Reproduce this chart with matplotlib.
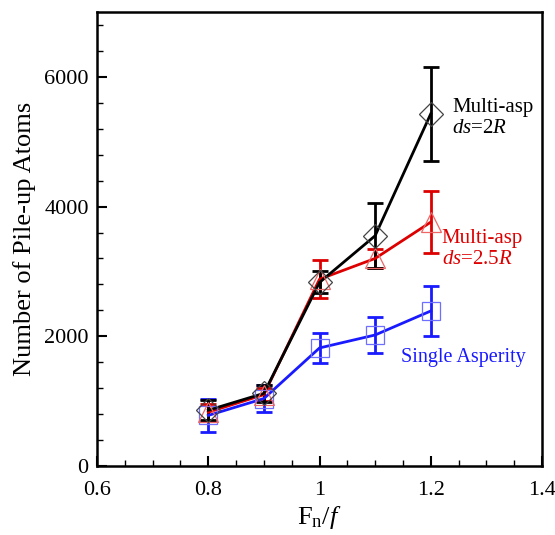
import matplotlib
matplotlib.use("Agg")
import matplotlib.pyplot as plt
from matplotlib.ticker import MultipleLocator

plt.rcParams['font.family'] = ['Liberation Serif', 'DejaVu Serif']
plt.rcParams['mathtext.fontset'] = 'custom'
plt.rcParams['mathtext.rm'] = 'Liberation Serif'
plt.rcParams['mathtext.it'] = 'Liberation Serif:italic'

# Load ratio F_n/f
ratio = [0.8, 0.9, 1.0, 1.1, 1.2]

# Multi-asperity, ds = 2R
multi_2r = [860, 1120, 2830, 3550, 5430]
multi_2r_err = [150, 130, 170, 500, 720]

# Multi-asperity, ds = 2.5R
multi_25r = [830, 1100, 2880, 3200, 3760]
multi_25r_err = [130, 100, 290, 140, 480]

# Single asperity
single = [780, 1040, 1820, 2020, 2390]
single_err = [250, 210, 230, 280, 390]

fig = plt.figure(figsize=(5.55, 5.35), dpi=100)
ax = fig.add_axes([97 / 555, 1 - 466 / 535, (542 - 97) / 555, (466 - 12) / 535])

series = [
    (single, single_err, '#1a1aff', '#6f6fff', 's', 12.5),
    (multi_25r, multi_25r_err, '#dd0000', '#ee6666', '^', 14),
    (multi_2r, multi_2r_err, '#000000', '#444444', 'D', 12.5),
]
for vals, errs, col, mcol, mk, ms in series:
    ax.errorbar(ratio, vals, yerr=errs, color=col, lw=2.0, capsize=6,
                capthick=2.0, elinewidth=2.0, zorder=2)
    ax.plot(ratio, vals, linestyle='none', marker=mk, ms=ms, mfc='none',
            mec=mcol, mew=0.9, zorder=3)

ax.set_xlim(0.6, 1.4)
ax.set_ylim(0, 7000)
ax.xaxis.set_major_locator(MultipleLocator(0.2))
ax.xaxis.set_minor_locator(MultipleLocator(0.05))
ax.yaxis.set_major_locator(MultipleLocator(2000))
ax.yaxis.set_minor_locator(MultipleLocator(400))
ax.set_xticks([0.6, 0.8, 1.0, 1.2, 1.4])
ax.set_xticklabels(['0.6', '0.8', '1', '1.2', '1.4'])
ax.tick_params(which='both', direction='in', top=False, right=False,
               labelsize=16, width=1.5)
ax.tick_params(axis='x', which='major', pad=11)
ax.tick_params(axis='y', which='major', pad=6)
ax.tick_params(which='major', length=7)
ax.tick_params(which='minor', length=4, width=1.0)
for sp in ax.spines.values():
    sp.set_linewidth(1.8)

ax.set_xlabel(r'F$_{\mathrm{n}}$/$f$', fontsize=19, labelpad=3)
ax.set_ylabel('Number of Pile-up Atoms', fontsize=19, labelpad=6)

ax.text(1.238, 5520, 'Multi-asp', color='black', fontsize=15, va='center')
ax.text(1.238, 5210, r'$ds$=2$R$', color='black', fontsize=15, va='center')
ax.text(1.22, 3500, 'Multi-asp', color='#dd0000', fontsize=15, va='center')
ax.text(1.22, 3190, r'$ds$=2.5$R$', color='#dd0000', fontsize=15, va='center')
ax.text(1.147, 1680, 'Single Asperity', color='#1a1aff', fontsize=14.5,
        va='center')

fig.savefig('out.png', dpi=100)
